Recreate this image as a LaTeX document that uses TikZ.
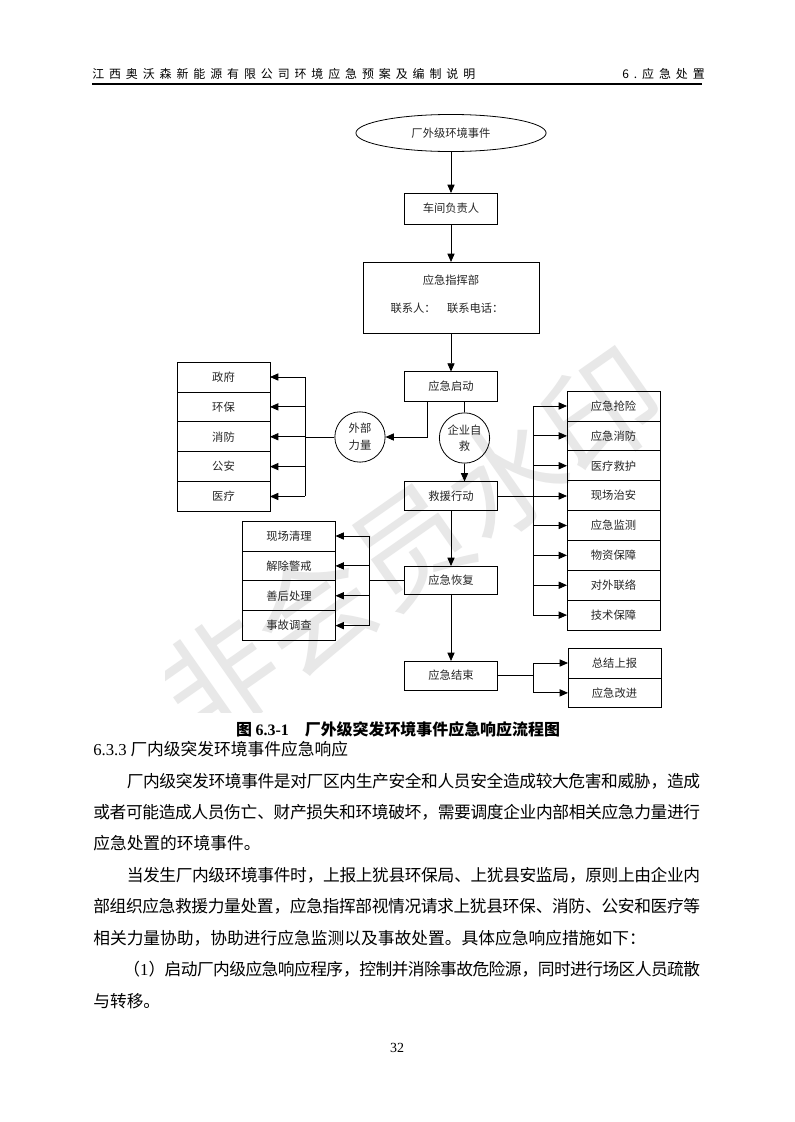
\documentclass[tikz,border=0pt]{standalone}
\usepackage{fontspec}
\setmainfont{Liberation Serif}
\newfontfamily\cjk{Noto Sans CJK SC}
\usetikzlibrary{positioning}
\usetikzlibrary{shapes.geometric}
\usetikzlibrary{arrows.meta}
\XeTeXlinebreaklocale "zh"
\XeTeXlinebreakskip=0pt plus 1pt minus 1pt

\begin{document}
\begin{tikzpicture}[x=0.26448mm,y=-0.26448mm,
    box/.style={draw,line width=0.6pt,inner sep=0pt,outer sep=0pt,minimum width=24.6mm,minimum height=7.9mm,text=black!85,font=\cjk\fontsize{8.5}{10}\selectfont},
    ring/.style={draw,circle,line width=0.6pt,inner sep=0pt,minimum size=13.3mm,align=center,text=black!85,font=\cjk\fontsize{8.5}{12.5}\selectfont},
    tag/.style={inner sep=0pt,text=black!85,font=\cjk\fontsize{8.5}{10}\selectfont},
    wire/.style={line width=0.6pt},
    arr/.style={line width=0.6pt,-{Triangle[length=2.2mm,width=1.9mm]}}]

    % page
    \path[use as bounding box,fill=white] (0,0) rectangle (794,1122);

    % running head
    \node[anchor=west,inner sep=0pt,font=\cjk\addfontfeatures{LetterSpace=41}\fontsize{9}{11}\selectfont] (runhead) at (92,74) {江西奥沃森新能源有限公司环境应急预案及编制说明};
    \node[anchor=east,inner sep=0pt,font=\cjk\addfontfeatures{LetterSpace=41}\fontsize{9}{11}\selectfont] (chapter) at (705,74) {6.应急处置};
    \draw[line width=1pt] (92,84) coordinate (ruleL) -- (702,84) coordinate (ruleR);

    % watermark
    \begin{scope}
    \clip (165,100) rectangle (700,712);
    \node[rotate=35,text=black!9,font=\cjk\fontsize{88}{90}\selectfont] (mark) at (410,545) {非会员水印};
    \end{scope}

    % Place nodes
    \node[draw,ellipse,line width=0.6pt,minimum width=50.3mm,minimum height=9.8mm,inner sep=0pt,text=black!85,font=\cjk\fontsize{8.5}{10}\selectfont] (event) at (451,133) {厂外级环境事件};
    \node[box,minimum height=8.2mm] (leader) at (451,208.5) {车间负责人};
    \node[box,minimum width=46.5mm,minimum height=18.8mm] (command) at (451,297.5) {};
    \node[tag] (cmdname) at (451,280) {应急指挥部};
    \node[tag] (cmdcontact) at (447,308) {联系人：\hspace{1em}联系电话：};
    \node[box] (start) at (451,386.5) {应急启动};
    \node[ring] (external) at (360,437) {外部\\力量};
    \node[ring] (self) at (464.5,438) {企业自\\救};
    \node[box,minimum height=7.7mm] (rescue) at (451,496) {救援行动};
    \node[box,minimum height=7.4mm] (recover) at (451,580) {应急恢复};
    \node[box,minimum height=7.7mm] (finish) at (451,675.5) {应急结束};

    \node[box] (gov) at (223.5,377) {政府};
    \node[box,below=0pt of gov] (envprot) {环保};
    \node[box,below=0pt of envprot] (fire) {消防};
    \node[box,below=0pt of fire] (police) {公安};
    \node[box,below=0pt of police] (medical) {医疗};

    \node[box] (rush) at (613.5,406) {应急抢险};
    \node[box,below=0pt of rush] (firefight) {应急消防};
    \node[box,below=0pt of firefight] (aid) {医疗救护};
    \node[box,below=0pt of aid] (security) {现场治安};
    \node[box,below=0pt of security] (monitor) {应急监测};
    \node[box,below=0pt of monitor] (supply) {物资保障};
    \node[box,below=0pt of supply] (liaison) {对外联络};
    \node[box,below=0pt of liaison] (tech) {技术保障};

    \node[box] (cleanup) at (289,536) {现场清理};
    \node[box,below=0pt of cleanup] (release) {解除警戒};
    \node[box,below=0pt of release] (aftercare) {善后处理};
    \node[box,below=0pt of aftercare] (inquiry) {事故调查};

    \node[box] (report) at (614.5,663) {总结上报};
    \node[box,below=0pt of report] (improve) {应急改进};

    \coordinate (busL) at (305,0);
    \coordinate (busR) at (533,0);
    \coordinate (busM) at (369,0);

    % main line
    \draw[arr] (event) -- (leader);
    \draw[arr] (leader) -- (command);
    \draw[arr] (command) -- (start);
    \draw[arr] ([xshift=-6.35mm]start.south) |- (external.east);
    \draw[wire] (self.north |- start.south) -- (self.north);
    \draw[arr] (self.south) -- (self.south |- rescue.north);
    \draw[arr] (rescue) -- (recover);
    \draw[arr] (recover) -- (finish);

    % outside forces
    \draw[wire] (external.west) -- (busL |- external.west);
    \draw[wire] (busL |- gov.east) -- (busL |- medical.east);
    \draw[arr] (busL |- gov.east) -- (gov.east);
    \draw[arr] (busL |- envprot.east) -- (envprot.east);
    \draw[arr] (busL |- fire.east) -- (fire.east);
    \draw[arr] (busL |- police.east) -- (police.east);
    \draw[arr] (busL |- medical.east) -- (medical.east);

    % rescue tasks
    \draw[arr] (rescue.east) -- (rescue.east -| security.west);
    \draw[wire] (busR |- rush.west) -- (busR |- tech.west);
    \draw[arr] (busR |- rush.west) -- (rush.west);
    \draw[arr] (busR |- firefight.west) -- (firefight.west);
    \draw[arr] (busR |- aid.west) -- (aid.west);
    \draw[arr] (busR |- monitor.west) -- (monitor.west);
    \draw[arr] (busR |- supply.west) -- (supply.west);
    \draw[arr] (busR |- liaison.west) -- (liaison.west);
    \draw[arr] (busR |- tech.west) -- (tech.west);

    % recovery tasks
    \draw[wire] (recover.west) -- (busM |- recover.west);
    \draw[wire] (busM |- cleanup.east) -- (busM |- inquiry.east);
    \draw[arr] (busM |- cleanup.east) -- (cleanup.east);
    \draw[arr] (busM |- release.east) -- (release.east);
    \draw[arr] (busM |- aftercare.east) -- (aftercare.east);
    \draw[arr] (busM |- inquiry.east) -- (inquiry.east);

    % closing
    \draw[wire] (finish.east) -- (busR |- finish.east);
    \draw[wire] (busR |- report.west) -- (busR |- improve.west);
    \draw[arr] (busR |- report.west) -- (report.west);
    \draw[arr] (busR |- improve.west) -- (improve.west);

    % caption and text
    \node[font=\cjk\bfseries\fontsize{12}{14}\selectfont] (caption) at (398,729) {图 {\rmfamily\bfseries 6.3-1}\quad 厂外级突发环境事件应急响应流程图};
    \node[anchor=base west,inner sep=0pt,text width=160.5mm,align=justify,font=\cjk\fontsize{12.6}{23.7}\selectfont] (body) at (93,755.5) {\noindent{\rmfamily 6.3.3} 厂内级突发环境事件应急响应\par
    \noindent\hspace*{2em}厂内级突发环境事件是对厂区内生产安全和人员安全造成较大危害和威胁，造成\linebreak
    或者可能造成人员伤亡、财产损失和环境破坏，需要调度企业内部相关应急力量进行\linebreak
    应急处置的环境事件。\par
    \noindent\hspace*{2em}当发生厂内级环境事件时，上报上犹县环保局、上犹县安监局，原则上由企业内\linebreak
    部组织应急救援力量处置，应急指挥部视情况请求上犹县环保、消防、公安和医疗等\linebreak
    相关力量协助，协助进行应急监测以及事故处置。具体应急响应措施如下：\par
    \noindent\hspace*{1.8em}（{\rmfamily 1}）启动厂内级应急响应程序，控制并消除事故危险源，同时进行场区人员疏散\linebreak
    与转移。};
    \node[font=\fontsize{10.5}{12}\selectfont] (pageno) at (397,1048) {32};
\end{tikzpicture}
\end{document}
